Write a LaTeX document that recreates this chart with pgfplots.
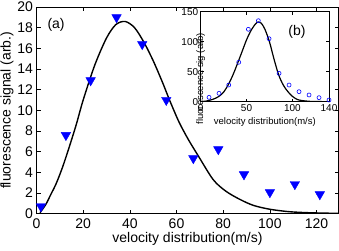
\documentclass[border=0pt]{standalone}
\usepackage{fontspec}
\setmainfont{Liberation Sans}
\usepackage{pgfplots}
\pgfplotsset{compat=1.18}
\definecolor{mblue}{RGB}{0,0,255}
\begin{document}
\begin{tikzpicture}
\begin{axis}[
  at={(0pt,0pt)}, anchor=south west, scale only axis,
  width=302pt, height=206.7pt,
  xmin=0, xmax=129.4, ymin=0, ymax=20,
  xtick={0,20,...,120}, ytick={0,2,...,20},
  tick align=inside, major tick length=4pt,
  axis line style={line width=0.5pt},
  every tick/.style={black, line width=0.5pt},
  /pgf/number format/assume math mode=true,
  ticklabel style={font=\fontsize{14}{16}\selectfont},
  xticklabel style={yshift=-1pt},
  xlabel={velocity distribution(m/s)},
  ylabel={fluorescence signal (arb.)},
  label style={font=\fontsize{14}{16}\selectfont},
  xlabel style={yshift=3pt},
  ylabel style={yshift=-3pt},
]
\addplot[black, line width=1.4pt, smooth, tension=0.5] coordinates {
(1.5,0.1)(4,0.9)(6,1.8)(8.4,2.9)(11,4.4)(13.6,6.15)(17,8.6)(20,11.0)(25,14.4)(30,17.0)(34,18.3)(38,18.6)(42,18.0)(46,16.6)(50,14.8)(54,12.7)(57,11.0)(61,8.9)(65,7.2)(69.3,5.6)(75.7,3.3)(81,2.2)(87,1.4)(93,0.8)(100,0.43)(108,0.2)(116,0.1)(125,0.05)(129.4,0.03)
};
\addplot[only marks, mark=triangle*, mark size=5.5pt, mark options={rotate=180, fill=mblue, draw=mblue}] coordinates {
(1.9,0.7)(12.6,7.6)(23.2,12.9)(34.3,19.0)(45.3,16.4)(55.6,11.0)(67.2,5.36)(77.9,6.23)(88.9,3.8)(100,2.07)(110.7,2.85)(121.4,1.87)
};
\node[font=\fontsize{14}{16}\selectfont] at (axis cs:8.4,18.3) {(a)};
\end{axis}
\begin{axis}[
  at={(164.2pt,112pt)}, anchor=south west, scale only axis,
  width=128.3pt, height=90pt,
  xmin=0, xmax=140, ymin=0, ymax=150,
  xtick={0,50,100,140}, ytick={0,50,100,150},
  tick align=inside, major tick length=3pt,
  axis background/.style={fill=white},
  axis line style={line width=0.5pt},
  every tick/.style={black, line width=0.5pt},
  /pgf/number format/assume math mode=true,
  ticklabel style={font=\fontsize{10}{12}\selectfont},
  xticklabel style={yshift=1pt},
  yticklabel style={xshift=1pt},
  xlabel={velocity distribution(m/s)},
  ylabel={fluorescence sig (arb)},
  label style={font=\fontsize{9.5}{11}\selectfont},
  xlabel style={at={(axis description cs:0.5,0)}, anchor=center, yshift=-20pt},
  ylabel style={at={(axis description cs:0,0.5)}, anchor=center, xshift=-22pt, rotate=0},
]
\addplot[black, line width=1.2pt, smooth, tension=0.5] coordinates {
(0,0.3)(5,0.8)(10,2.5)(15,5)(20,9)(25,16)(30,28)(35,44)(40,63)(45,83)(50,103)(55,119)(60,130)(63,133)(66,131)(70,121)(75,100)(80,71)(85,45)(90,28)(95,17)(100,9)(105,4)(110,2)(120,0.5)(130,0.2)(140,0.1)
};
\addplot[only marks, mark=o, mark size=2pt, mark options={draw=mblue, line width=0.6pt}] coordinates {
(9.1,7.3)(20,14)(30.6,27.8)(41.5,65.7)(52,120.7)(62.9,135)(74.6,105)(85.5,47.3)(96.4,27.8)(107.3,16.7)(118.2,11.2)(129.1,6.7)(140,2.8)
};
\node[font=\fontsize{14}{16}\selectfont] at (axis cs:105,117) {(b)};
\end{axis}
\pgfresetboundingbox
\path[use as bounding box] (-36.5pt,-36.3pt) rectangle (302.5pt,213.7pt);
\end{tikzpicture}
\end{document}
